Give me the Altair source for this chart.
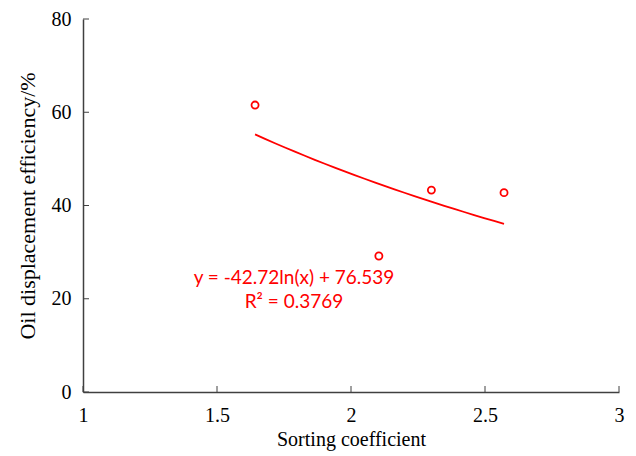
import altair as alt
import pandas as pd

# data
sorting = [1.642, 2.104, 2.300, 2.571]
efficiency = [61.55, 29.17, 43.3, 42.75]
x_ticks = [1, 1.5, 2, 2.5, 3]
y_ticks = [0, 20, 40, 60, 80]
eq_lines = ["y = -42.72ln(x) + 76.539", "R² = 0.3769"]

df = pd.DataFrame({"x": sorting, "y": efficiency})
xt = pd.DataFrame({"x": x_ticks})
yt = pd.DataFrame({"y": y_ticks})
eq = pd.DataFrame({"t": eq_lines, "i": list(range(len(eq_lines)))})

RED = "#FF0000"
AX = "#404040"
SERIF = "Liberation Serif"

xscale = alt.Scale(domain=[1, 3], nice=False, zero=False)
yscale = alt.Scale(domain=[0, 80], nice=False)

xaxis = alt.Axis(values=x_ticks, format="~g", ticks=False, tickSize=0, grid=False,
                 domainColor=AX, domainWidth=1.5, labelFont=SERIF, labelFontSize=20,
                 labelColor="black", labelPadding=13, title="Sorting coefficient",
                 titleFont=SERIF, titleFontSize=20, titleFontWeight="normal",
                 titleColor="black", titlePadding=4, labelFlush=False)
yaxis = alt.Axis(values=y_ticks, format="d", ticks=False, tickSize=0, grid=False,
                 domainColor=AX, domainWidth=1.5, labelFont=SERIF, labelFontSize=20,
                 labelColor="black", labelPadding=12,
                 title="Oil displacement efficiency/%", titleFont=SERIF,
                 titleFontSize=22, titleFontWeight="normal", titleColor="black",
                 titlePadding=12, labelFlush=False)

X = alt.X("x:Q", scale=xscale, axis=xaxis)
Y = alt.Y("y:Q", scale=yscale, axis=yaxis)

base = alt.Chart(df)

points = base.mark_point(shape="circle", filled=False, color=RED, size=50,
                         strokeWidth=1.8, opacity=1).encode(x=X, y=Y)

trend = base.transform_regression("x", "y", method="log").mark_line(
    color=RED, strokeWidth=1.8).encode(x=X, y=Y)

xtick_marks = alt.Chart(xt).mark_rule(color=AX, strokeWidth=1).encode(
    x=X, y=alt.value(373), y2=alt.value(367),
)
ytick_marks = alt.Chart(yt).mark_rule(color=AX, strokeWidth=1).encode(
    y=Y, x=alt.value(0), x2=alt.value(6),
)

texts = []
for i in range(len(eq_lines)):
    texts.append(
        alt.Chart(eq).transform_filter(alt.datum.i == i).mark_text(
            font="Lato", fontSize=19, color=RED, align="center", baseline="middle"
        ).encode(text="t:N", x=alt.value(211), y=alt.value(259 + 24 * i))
    )

chart = alt.layer(ytick_marks, xtick_marks, trend, points, *texts).properties(
    width=536, height=373,
    autosize=alt.AutoSizeParams(type="none"),
    padding={"left": 83, "top": 19, "right": 17, "bottom": 64},
).configure_view(stroke=None)

chart.save("out.html", embed_options={"renderer": "svg", "actions": False})
